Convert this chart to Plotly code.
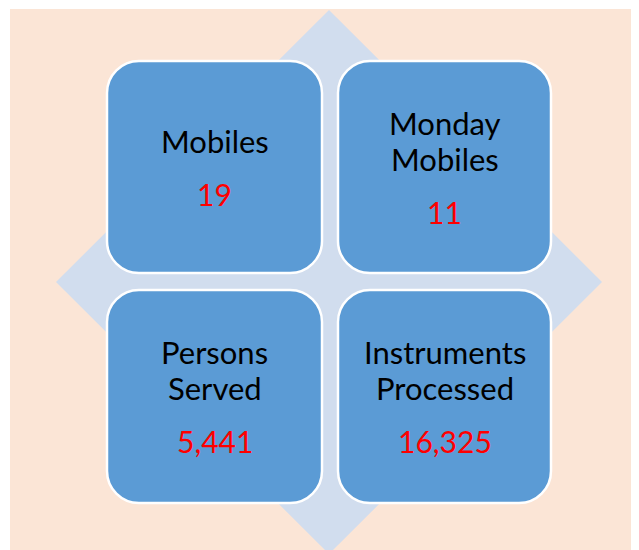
import plotly.graph_objects as go

# ---- data ----
labels = [["Mobiles"], ["Monday", "Mobiles"], ["Persons", "Served"], ["Instruments", "Processed"]]
values = [19, 11, 5441, 16325]

# ---- layout geometry (pixels, in window coordinates) ----
W, H = 639, 550
PAGE_OFFSET = 8  # default body margin of the html page
box_x = [(107, 322), (338, 551), (107, 322), (338, 551)]
box_y = [(61, 273), (61, 273), (290, 503), (290, 503)]
radius = 32
diamond = dict(cx=329, cy=282, hw=273, hh=272)
line_pitch = 36
value_gap = 53

PEACH = "#FBE5D6"
DIAMOND = "#D1DDEE"
BOX = "#5B9BD5"
FONT = "Lato"
LABEL_SIZE = 31
VALUE_SIZE = 30


def rounded_rect(x0, y0, x1, y1, r):
    k = 0.5523 * r
    return (
        f"M {x0 + r},{y0} L {x1 - r},{y0} "
        f"C {x1 - r + k},{y0} {x1},{y0 + r - k} {x1},{y0 + r} "
        f"L {x1},{y1 - r} "
        f"C {x1},{y1 - r + k} {x1 - r + k},{y1} {x1 - r},{y1} "
        f"L {x0 + r},{y1} "
        f"C {x0 + r - k},{y1} {x0},{y1 - r + k} {x0},{y1 - r} "
        f"L {x0},{y0 + r} "
        f"C {x0},{y0 + r - k} {x0 + r - k},{y0} {x0 + r},{y0} Z"
    )


fig = go.Figure()
fig.add_trace(go.Scatter(x=[PAGE_OFFSET, W], y=[PAGE_OFFSET, H], mode="markers", marker=dict(opacity=0),
                         hoverinfo="skip", showlegend=False))

shapes = []
shapes.append(dict(type="rect", x0=10, y0=9, x1=W + 20, y1=H + 20, fillcolor=PEACH, line=dict(width=0), layer="below"))
cx, cy, hw, hh = diamond["cx"], diamond["cy"], diamond["hw"], diamond["hh"]
shapes.append(dict(type="path", path=f"M {cx},{cy - hh} L {cx + hw},{cy} L {cx},{cy + hh} L {cx - hw},{cy} Z",
                   fillcolor=DIAMOND, line=dict(width=0), layer="below"))
for (x0, x1), (y0, y1) in zip(box_x, box_y):
    shapes.append(dict(type="path", path=rounded_rect(x0, y0, x1, y1, radius),
                       fillcolor=BOX, line=dict(color="white", width=2.5), layer="above"))

annotations = []
for lines, val, (x0, x1), (y0, y1) in zip(labels, values, box_x, box_y):
    bx = (x0 + x1) / 2
    by = (y0 + y1) / 2
    n = len(lines)
    total = (n - 1) * line_pitch + value_gap
    top = by - total / 2
    for i, ln in enumerate(lines):
        annotations.append(dict(x=bx, y=top + i * line_pitch, text=ln, showarrow=False,
                                xanchor="center", yanchor="middle",
                                font=dict(family=FONT, size=LABEL_SIZE, color="black")))
    vy = top + (n - 1) * line_pitch + value_gap
    annotations.append(dict(x=bx, y=vy, text=f"{val:,}", showarrow=False, xanchor="center", yanchor="middle",
                            font=dict(family=FONT, size=VALUE_SIZE, color="#FF0000")))

fig.update_layout(
    width=W, height=H,
    margin=dict(l=0, r=0, t=0, b=0),
    paper_bgcolor="white", plot_bgcolor="white",
    xaxis=dict(range=[PAGE_OFFSET, W + PAGE_OFFSET], visible=False, fixedrange=True),
    yaxis=dict(range=[H + PAGE_OFFSET, PAGE_OFFSET], visible=False, fixedrange=True),
    shapes=shapes, annotations=annotations, showlegend=False,
)
fig.write_html("out.html", config={"displayModeBar": False})
